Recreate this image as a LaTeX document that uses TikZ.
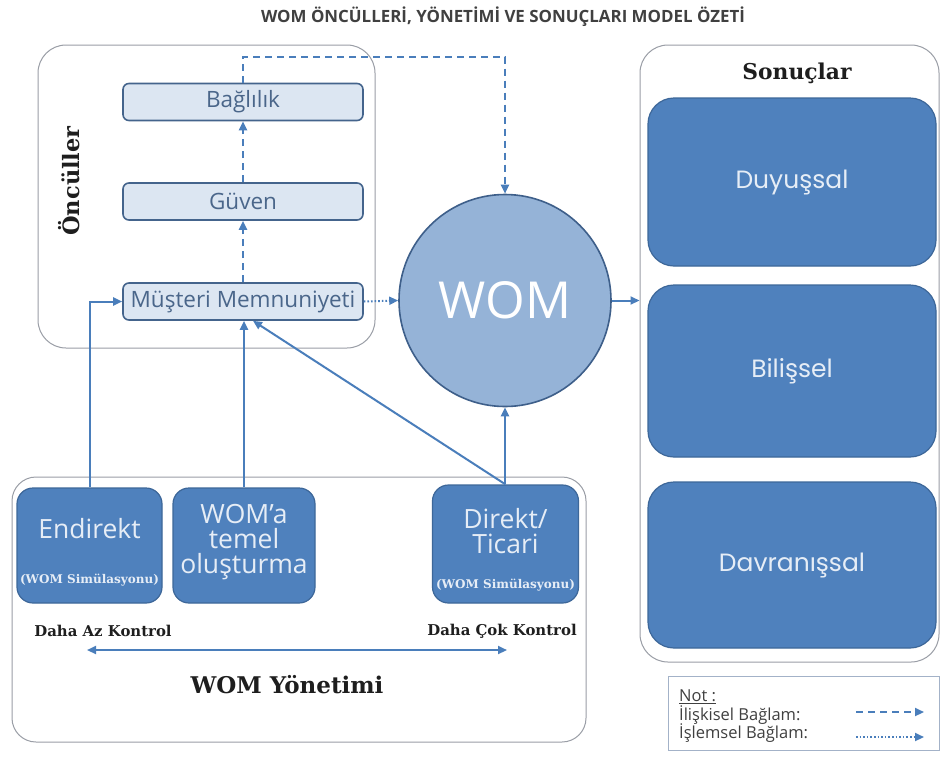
\documentclass[tikz,border=0pt]{standalone}
\usepackage{fontspec}
\usetikzlibrary{arrows.meta,calc}
\newfontfamily\osans{Open Sans}
\newfontfamily\popf{Poppins}
\newfontfamily\serifb{DejaVu Serif}
\newfontfamily\legf{Open Sans}
\definecolor{nodefill}{HTML}{DCE6F2}
\definecolor{nodeborder}{HTML}{44648C}
\definecolor{nodetext}{HTML}{4A668A}
\definecolor{darkfill}{HTML}{4F81BD}
\definecolor{darkborder}{HTML}{3D6799}
\definecolor{darktext}{HTML}{E6EDF6}
\definecolor{circfill}{HTML}{95B3D7}
\definecolor{circborder}{HTML}{3E5F8A}
\definecolor{arrowblue}{HTML}{4A7EBB}
\definecolor{framegray}{HTML}{9A9EA6}
\definecolor{legframe}{HTML}{A3B2C8}
\definecolor{inkblack}{HTML}{1E1E1E}
\tikzset{
  frame/.style={draw=framegray, line width=1pt, fill=white, rounded corners=28pt, inner sep=0pt},
  lightbox/.style={draw=nodeborder, fill=nodefill, line width=1.6pt, rounded corners=6pt,
     minimum width=240pt, minimum height=37pt, inner sep=0pt, text=nodetext,
     font=\osans\fontsize{22.5}{24}\selectfont},
  darkbox/.style={draw=darkborder, fill=darkfill, line width=1.2pt, rounded corners=16pt, inner sep=0pt},
  bigbox/.style={draw=darkborder, fill=darkfill, line width=1.2pt, rounded corners=26pt, inner sep=0pt,
     minimum width=288pt, text=darktext, font=\popf\fontsize{25}{27}\selectfont},
  boxtxt/.style={text=darktext, font=\osans\fontsize{26.5}{25}\selectfont, align=center, inner sep=0pt},
  simtxt/.style={text=darktext, font=\serifb\bfseries\fontsize{12}{13}\selectfont, inner sep=0pt},
  sertitle/.style={text=inkblack, font=\serifb\bfseries\fontsize{#1}{#1}\selectfont, inner sep=0pt},
  conn/.style={draw=arrowblue, line width=2pt, -{Triangle[length=9pt,width=8pt]}},
  dasharrow/.style={conn, dash pattern=on 7pt off 5pt},
  dotarrow/.style={conn, dash pattern=on 1.6pt off 2pt},
  legtxt/.style={text=inkblack!85, font=\legf\fontsize{16.5}{18}\selectfont, inner sep=0pt, anchor=west},
}
\begin{document}
\begin{tikzpicture}[x=1pt,y=-1pt]
\useasboundingbox (0,0) rectangle (941,756);
\fill[white] (0,0) rectangle (941,756);

% title
\node[text=inkblack!85, font=\osans\bfseries\fontsize{16.9}{18}\selectfont] (title) at (503,17)
  {WOM ÖNCÜLLERİ, YÖNETİMİ VE SONUÇLARI MODEL ÖZETİ};

% frames
\node[frame, minimum width=337pt, minimum height=303pt] (oncbox) at (206.5,196.5) {};
\node[frame, minimum width=299pt, minimum height=617pt] (sonbox) at (789.5,353.5) {};
\node[frame, minimum width=574pt, minimum height=265pt, rounded corners=24pt] (yonbox) at (299,609.5) {};
\node[draw=legframe, line width=1pt, fill=white, minimum width=271pt, minimum height=74pt, inner sep=0pt] (legbox) at (803.5,713) {};

% frame labels
\node[sertitle=22.5, rotate=90] (oncl) at (69,181) {Öncüller};
\node[sertitle=21.8] (sonl) at (797,73) {Sonuçlar};
\node[sertitle=23] (yonl) at (287,685) {WOM Yönetimi};
\node[sertitle=14.9] (azl) at (103,631) {Daha Az Kontrol};
\node[sertitle=14.9] (cokl) at (502,631) {Daha Çok Kontrol};

% antecedents
\node[lightbox] (baglilik) at (243,102) {Bağlılık};
\node[lightbox] (guven) at (243,201.5) {Güven};
\node[lightbox] (musteri) at (243,301.5) {Müşteri Memnuniyeti};

% WOM circle
\node[circle, draw=circborder, fill=circfill, line width=1.6pt, minimum size=212pt, inner sep=0pt,
      text=white, font=\osans\fontsize{51}{51}\selectfont] (wom) at (505,300.5) {WOM};

% outcomes
\node[bigbox, minimum height=168pt] (duyussal) at (792,182) {Duyuşsal};
\node[bigbox, minimum height=172pt] (bilissel) at (792,371) {Bilişsel};
\node[bigbox, minimum height=166pt] (davranissal) at (792,565) {Davranışsal};

% management boxes
\node[darkbox, minimum width=145pt, minimum height=115pt] (endirekt) at (89.5,545.5) {};
\node[darkbox, minimum width=142pt, minimum height=115pt] (womatemel) at (244,545.5) {};
\node[darkbox, minimum width=146pt, minimum height=118pt] (direkt) at (505.5,544) {};

\node[boxtxt] (endt) at (89.5,529) {Endirekt};
\node[simtxt] (ends) at (89.5,580) {(WOM Simülasyonu)};
\node[boxtxt] (womt) at (244,542) {WOM’a\\temel\\oluşturma};
\node[boxtxt] (dirt) at (505.5,531) {Direkt/\\Ticari};
\node[simtxt] (dirs) at (505.5,585) {(WOM Simülasyonu)};

% connectors
\draw[conn] (endirekt.north) |- (musteri.west);
\draw[conn] (womatemel.north) -- (womatemel.north |- musteri.south);
\draw[conn] (direkt.north) -- ([xshift=10pt]musteri.south);
\draw[conn] (wom.south |- direkt.north) -- (wom.south);
\draw[conn] (wom.east) -- (wom.east -| sonbox.west);
\draw[dotarrow] (musteri.east) -- (wom.west);
\draw[dasharrow] (musteri.north) -- (guven.south);
\draw[dasharrow] (guven.north) -- (baglilik.south);
\draw[dasharrow] (baglilik.north) -- ++(0,-26) -| (wom.north);

% control axis
\coordinate (ctlL) at (87,650);
\coordinate (ctlR) at (507,650);
\draw[draw=arrowblue, line width=2pt, {Triangle[length=9pt,width=8pt]}-{Triangle[length=9pt,width=8pt]}] (ctlL) -- (ctlR);

% legend
\node[legtxt] (notl) at (679,697) {\underline{Not :}};
\node[legtxt] (iliskl) at (679,715) {İlişkisel Bağlam:};
\node[legtxt] (isleml) at (679,733) {İşlemsel Bağlam:};
\coordinate (lg1a) at (856,712);
\coordinate (lg1b) at (924,712);
\coordinate (lg2a) at (856,737);
\coordinate (lg2b) at (924,737);
\draw[dasharrow] (lg1a) -- (lg1b);
\draw[dotarrow] (lg2a) -- (lg2b);
\end{tikzpicture}
\end{document}
